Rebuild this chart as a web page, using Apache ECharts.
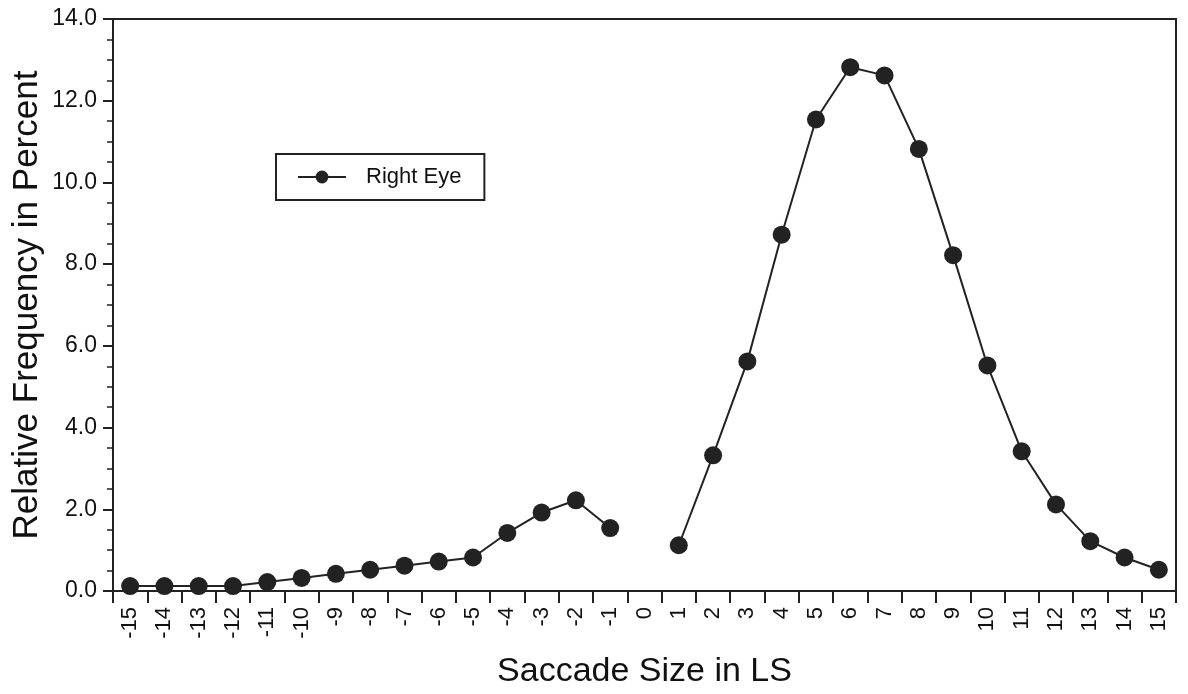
<!DOCTYPE html>
<html>
<head>
<meta charset="utf-8">
<script src="https://cdn.jsdelivr.net/npm/echarts@6/dist/echarts.min.js"></script>
<style>
  html, body { margin: 0; padding: 0; background: #fff; }
  #chart { width: 1188px; height: 694px; }
</style>
</head>
<body>
<div id="chart"></div>
<script>
// Saccade sizes in LS (category axis, -15 .. 15)
const saccadeSizes = ['-15','-14','-13','-12','-11','-10','-9','-8','-7','-6','-5','-4','-3','-2','-1',
                      '0','1','2','3','4','5','6','7','8','9','10','11','12','13','14','15'];

// Relative frequency (%) for the right eye; no value at size 0
const rightEye = [0.12, 0.12, 0.12, 0.12, 0.22, 0.32, 0.42, 0.52, 0.62, 0.72, 0.82, 1.42, 1.92, 2.22, 1.54,
                  null, 1.12, 3.32, 5.62, 8.72, 11.54, 12.82, 12.62, 10.82, 8.22, 5.52, 3.42, 2.12, 1.22, 0.82, 0.52];

const ink = '#222';
const font = 'Liberation Sans, Arial, sans-serif';

const chart = echarts.init(document.getElementById('chart'), null, { renderer: 'canvas' });

chart.setOption({
  backgroundColor: '#fff',
  animation: false,
  textStyle: { fontFamily: font, color: '#111' },
  grid: {
    left: 113, right: 12, top: 19, bottom: 103,
    containLabel: false, outerBoundsMode: 'none',
    show: true, borderColor: ink, borderWidth: 2, backgroundColor: 'transparent'
  },
  legend: {
    left: 276, top: 154,
    padding: [12, 23, 12, 21],
    borderColor: ink, borderWidth: 2, borderRadius: 0,
    itemWidth: 48, itemHeight: 16,
    textStyle: { fontSize: 22, color: '#111', fontFamily: font, padding: [0, 0, 0, 15] },
    data: ['Right Eye']
  },
  xAxis: {
    type: 'category',
    data: saccadeSizes,
    boundaryGap: true,
    axisLine: { lineStyle: { color: ink, width: 2 } },
    axisTick: { show: true, length: 12, lineStyle: { color: ink, width: 2 }, alignWithLabel: false },
    axisLabel: { rotate: 90, fontSize: 22, color: '#111', margin: 16, interval: 0, fontFamily: font },
    splitLine: { show: false },
    name: 'Saccade Size in LS',
    nameLocation: 'middle',
    nameGap: 64,
    nameMoveOverlap: false,
    nameTextStyle: { fontSize: 34, color: '#111', fontFamily: font }
  },
  yAxis: {
    type: 'value',
    min: 0, max: 14, interval: 2,
    axisLine: { show: true, lineStyle: { color: ink, width: 2 } },
    axisTick: { show: true, length: 10, lineStyle: { color: ink, width: 2 } },
    minorTick: { show: true, splitNumber: 4, length: 6, lineStyle: { color: ink, width: 1.5 } },
    axisLabel: { fontSize: 23, color: '#111', margin: 16, fontFamily: font,
                 formatter: v => v.toFixed(1) },
    splitLine: { show: false },
    name: 'Relative Frequency in Percent',
    nameLocation: 'middle',
    nameGap: 68,
    nameMoveOverlap: false,
    nameTextStyle: { fontSize: 35, color: '#111', fontFamily: font }
  },
  series: [{
    name: 'Right Eye',
    type: 'line',
    data: rightEye,
    connectNulls: false,
    symbol: 'circle',
    symbolSize: 18,
    lineStyle: { color: ink, width: 2 },
    itemStyle: { color: ink, borderColor: ink, borderWidth: 0 }
  }]
});
</script>
</body>
</html>
